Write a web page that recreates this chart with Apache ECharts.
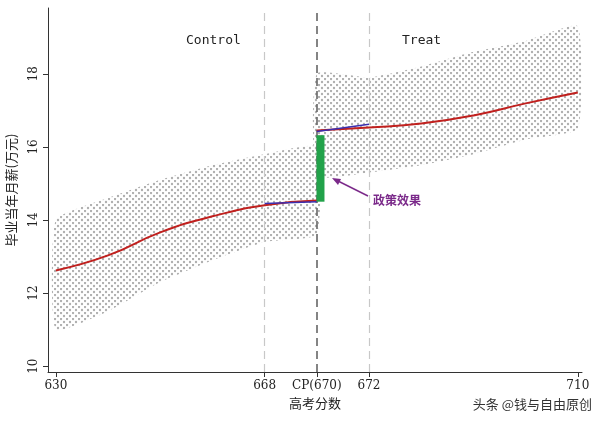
<!DOCTYPE html>
<html><head><meta charset="utf-8">
<script src="https://cdn.jsdelivr.net/npm/echarts@6/dist/echarts.min.js"></script>
<style>html,body{margin:0;background:#fff}#c{width:600px;height:425px}</style>
</head><body><div id="c"></div>
<script>
// x positions on a stretched axis: 630->0, 668->40, 670->50, 672->60, 710->100
const tickPos = [0, 40, 50, 60, 100];
const tickLabels = ['630', '668', 'CP(670)', '672', '710'];
const yTicks = [10, 12, 14, 16, 18];

// scatter cloud envelope
const ctrlX = [0, 10, 20, 30, 40, 50];
const ctrlLow = [11.0, 11.5, 12.3, 12.9, 13.4, 13.6];
const ctrlHigh = [14.0, 14.6, 15.1, 15.5, 15.8, 16.0];
const treatX = [50, 60, 70, 80, 90, 100];
const treatLow = [15.2, 15.3, 15.5, 15.8, 16.2, 16.5];
const treatHigh = [18.0, 17.9, 18.2, 18.6, 18.9, 19.3];

// fitted curves
const fitCtrl = [[0, 12.62], [10, 13.03], [20, 13.66], [30, 14.1], [40, 14.4], [50, 14.53]];
const fitTreat = [[50, 16.45], [60, 16.53], [70, 16.64], [80, 16.86], [90, 17.19], [100, 17.49]];
const localCtrl = [[40, 14.45], [50, 14.5]];
const localTreat = [[50, 16.42], [60, 16.62]];
const effect = [50.7, 14.5, 16.32];

const pat = document.createElement('canvas');
pat.width = 6; pat.height = 6;
const pc = pat.getContext('2d');
pc.fillStyle = '#b0b0b0';
[[1, 1], [4, 4]].forEach(([x, y]) => { pc.beginPath(); pc.arc(x, y, 1.2, 0, Math.PI * 2); pc.fill(); });

function band(xs, lo, hi) {
  const pts = xs.map((x, i) => [x, lo[i]]).concat(xs.map((x, i) => [x, hi[i]]).reverse());
  return {
    type: 'custom', data: [0], silent: true, z: 1, clip: true,
    renderItem: (params, api) => ({
      type: 'polygon',
      shape: { points: pts.map(p => api.coord(p)), smooth: 0.15 },
      style: { fill: { image: pat, repeat: 'repeat' } }
    })
  };
}
function line(d, color, w) {
  return { type: 'line', data: d, symbol: 'none', smooth: true, lineStyle: { color, width: w }, z: 5 };
}

const chart = echarts.init(document.getElementById('c'));
chart.setOption({
  animation: false,
  grid: { left: 48, right: 18, top: 8, bottom: 53, outerBoundsMode: 'none' },
  xAxis: {
    type: 'value', min: -1.5, max: 100.8,
    axisLine: { onZero: false, lineStyle: { color: '#333' } },
    axisTick: { show: true, length: 5, customValues: tickPos, lineStyle: { color: '#333' } },
    axisLabel: { customValues: tickPos, formatter: v => tickLabels[tickPos.indexOf(v)],
      color: '#222', fontSize: 12, fontFamily: 'DejaVu Serif' },
    splitLine: { show: false },
    name: '高考分数', nameLocation: 'middle', nameGap: 24,
    nameTextStyle: { color: '#222', fontSize: 13, fontFamily: 'Noto Sans CJK SC' }
  },
  yAxis: {
    type: 'value', min: 9.84, max: 19.8,
    axisLine: { show: true, onZero: false, lineStyle: { color: '#333' } },
    axisTick: { show: true, length: 5, customValues: yTicks, lineStyle: { color: '#333' } },
    axisLabel: { customValues: yTicks, rotate: 90, color: '#222', fontSize: 12, fontFamily: 'DejaVu Serif' },
    splitLine: { show: false },
    name: '毕业当年月薪(万元)', nameLocation: 'middle', nameGap: 30,
    nameTextStyle: { color: '#222', fontSize: 13, fontFamily: 'Noto Sans CJK SC' }
  },
  series: [
    band(ctrlX, ctrlLow, ctrlHigh),
    band(treatX, treatLow, treatHigh),
    line(fitCtrl, '#c0201e', 2),
    line(fitTreat, '#c0201e', 2),
    line(localCtrl, '#3b2fb0', 1.6),
    line(localTreat, '#3b2fb0', 1.6),
    {
      type: 'line', data: [], z: 6,
      markLine: {
        symbol: 'none', silent: true, label: { show: false },
        data: [
          { xAxis: 40, lineStyle: { color: '#c8c8c8', type: [8, 5], width: 1.2 } },
          { xAxis: 60, lineStyle: { color: '#c8c8c8', type: [8, 5], width: 1.2 } },
          { xAxis: 50, lineStyle: { color: '#666', type: [8, 5], width: 1.6 } }
        ]
      }
    },
    {
      type: 'line', data: [[effect[0], effect[1]], [effect[0], effect[2]]], symbol: 'none',
      lineStyle: { color: '#22a24a', width: 8 }, z: 7
    }
  ],
  graphic: [
    { type: 'text', left: 186, top: 34, style: { text: 'Control', font: '13px "DejaVu Sans Mono"', fill: '#222' } },
    { type: 'text', left: 402, top: 34, style: { text: 'Treat', font: '13px "DejaVu Sans Mono"', fill: '#222' } },
    { type: 'line', shape: { x1: 368, y1: 196, x2: 336, y2: 180 }, style: { stroke: '#7b2a8a', lineWidth: 1.5 } },
    { type: 'polygon', shape: { points: [[332, 178], [341, 179], [338, 185]] }, style: { fill: '#7b2a8a' } },
    { type: 'text', left: 373, top: 194, style: { text: '政策效果', font: 'bold 12px "Noto Sans CJK SC"', fill: '#7b2a8a' } },
    { type: 'text', right: 8, top: 398, style: { text: '头条 @钱与自由原创', font: '13px "Noto Sans CJK SC"', fill: '#333' } }
  ]
});
</script></body></html>
